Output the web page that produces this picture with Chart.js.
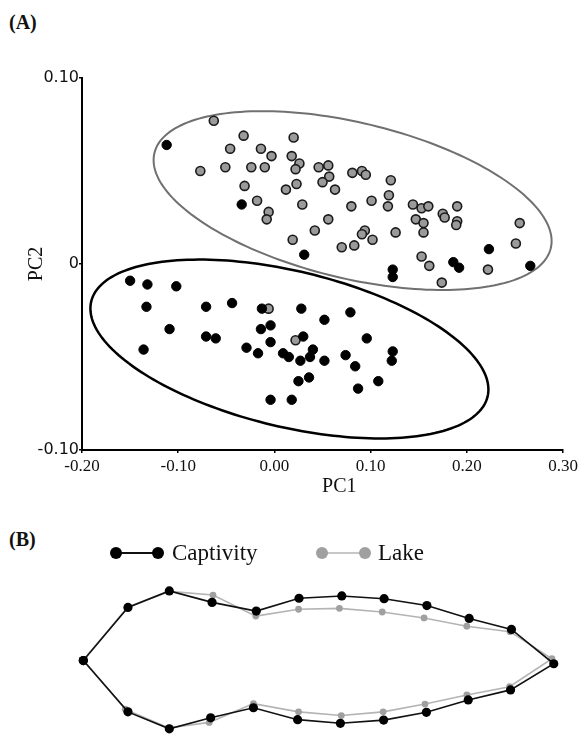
<!DOCTYPE html>
<html>
<head>
<meta charset="utf-8">
<title>PCA and mean shapes</title>
<script src="https://cdn.jsdelivr.net/npm/chart.js@4.4.0/dist/chart.umd.min.js"></script>
<style>
  html, body { margin: 0; padding: 0; background: #fff; }
  body { width: 585px; height: 738px; position: relative; overflow: hidden; font-family: "Liberation Serif", "Times New Roman", serif; color: #111; }
  .panel-label { position: absolute; left: 9px; font-weight: bold; font-size: 20px; line-height: 20px; }
  #wrapA { position: absolute; left: 0; top: 0; }
  #wrapB { position: absolute; left: 0; top: 540px; }
</style>
</head>
<body>
<div class="panel-label" style="top:12px">(A)</div>
<div class="panel-label" style="top:529px">(B)</div>
<div id="wrapA"><canvas id="pcaChart" width="585" height="505"></canvas></div>
<div id="wrapB"><canvas id="shapeChart" width="585" height="198"></canvas></div>
<script>
// ---- (A) PCA scores ----
const xTicks = [-0.20, -0.10, 0.00, 0.10, 0.20, 0.30];
const yTicks = [-0.10, 0, 0.10];

// Lake fish (grey)
const lakePC1 = [
  -0.063, -0.032, -0.046, -0.014, -0.003, 0.020, -0.077, -0.051, -0.024, -0.010,
  0.018, 0.026, 0.022, 0.046, 0.056, 0.057, 0.050, 0.063, 0.081, 0.091,
  0.095, 0.121, -0.031, 0.012, 0.023, -0.018, 0.029, -0.006, -0.008, 0.056,
  0.042, 0.019, 0.080, 0.101, 0.119, 0.118, 0.094, 0.091, 0.102, 0.070,
  0.083, 0.126, 0.144, 0.153, 0.160, 0.147, 0.155, 0.155, 0.175, 0.177,
  0.190, 0.190, 0.189, 0.153, 0.161, 0.174, 0.222, 0.251, 0.255, -0.006,
  0.022
];
const lakePC2 = [
  0.077, 0.069, 0.062, 0.062, 0.058, 0.068, 0.050, 0.052, 0.052, 0.052,
  0.058, 0.054, 0.051, 0.052, 0.053, 0.047, 0.044, 0.040, 0.049, 0.050,
  0.048, 0.045, 0.042, 0.040, 0.043, 0.034, 0.032, 0.028, 0.024, 0.024,
  0.018, 0.013, 0.031, 0.034, 0.037, 0.031, 0.018, 0.016, 0.013, 0.009,
  0.010, 0.017, 0.032, 0.030, 0.031, 0.024, 0.022, 0.017, 0.027, 0.025,
  0.031, 0.023, 0.021, 0.004, -0.001, -0.010, -0.003, 0.011, 0.022, -0.024,
  -0.041
];

// Captivity fish (black)
const captivityPC1 = [
  -0.112, -0.034, 0.031, 0.123, 0.123, 0.186, 0.192, 0.223, 0.266,
  -0.150, -0.132, -0.102, -0.133, -0.071, -0.044, -0.013, 0.028, 0.079, -0.109,
  -0.014, -0.004, 0.052, -0.071, -0.061, 0.030, -0.004, 0.096, -0.136, -0.029,
  -0.017, 0.009, 0.015, 0.027, 0.040, 0.037, 0.052, 0.074, 0.123, 0.122,
  0.084, 0.025, 0.036, 0.108, 0.087, -0.004, 0.018
];
const captivityPC2 = [
  0.064, 0.032, 0.005, -0.003, -0.007, 0.001, -0.002, 0.008, -0.001,
  -0.009, -0.011, -0.012, -0.023, -0.023, -0.021, -0.024, -0.024, -0.026, -0.035,
  -0.035, -0.033, -0.030, -0.039, -0.040, -0.039, -0.042, -0.040, -0.046, -0.045,
  -0.048, -0.048, -0.050, -0.052, -0.046, -0.050, -0.052, -0.049, -0.047, -0.052,
  -0.055, -0.063, -0.061, -0.063, -0.067, -0.073, -0.073
];

// confidence ellipses: centre + two half-axis vectors (data units)
const ellipseCentres = [[0.0813, 0.0341], [0.0156, -0.0457]];
const ellipseAxisU = [0.206, -0.0256];
const ellipseAxisV = [-0.0189, -0.0407];
const ellipseColours = ['#707070', '#000'];
const ellipseWidths = [2, 2.5];

// ---- (B) mean outlines (landmarks, arbitrary units) ----
const captivityX = [0.0, 9.5, 18.3, 27.4, 36.8, 45.9, 55.0, 64.0, 73.1, 82.1, 91.1, 100.1,
  90.9, 81.9, 73.0, 63.9, 54.7, 45.6, 36.2, 27.1, 18.3, 9.5];
const captivityY = [-0.1, 11.5, 15.1, 12.6, 10.7, 13.5, 14.0, 13.4, 11.9, 9.1, 6.7, -0.8,
  -6.5, -8.7, -11.4, -13.1, -13.8, -13.0, -10.4, -12.6, -15.0, -11.3];
const lakeX = [0.0, 9.5, 18.3, 27.6, 36.7, 45.8, 54.5, 63.6, 72.5, 81.6, 90.8, 99.7,
  90.7, 81.6, 72.7, 63.8, 54.9, 45.8, 36.2, 26.8, 18.2, 8.9];
const lakeY = [0.0, 11.6, 15.0, 14.2, 9.6, 11.1, 11.3, 10.5, 9.2, 7.4, 6.2, 0.3,
  -5.8, -7.6, -9.6, -11.3, -12.1, -11.3, -9.5, -13.6, -14.8, -10.7];

const toPoints = (xs, ys) => xs.map((v, i) => ({ x: v, y: ys[i] }));
const closeLoop = (xs, ys) => { const p = toPoints(xs, ys); p.push(p[0]); return p; };
const serif = '"Liberation Serif", "Times New Roman", serif';

const ellipsePlugin = {
  id: 'ellipses',
  beforeDatasetsDraw(chart) {
    const { ctx, scales: { x, y } } = chart;
    ellipseCentres.forEach((c, i) => {
      ctx.save();
      ctx.beginPath();
      for (let k = 0; k <= 200; k++) {
        const t = k / 200 * 2 * Math.PI;
        const vx = c[0] + ellipseAxisU[0] * Math.cos(t) + ellipseAxisV[0] * Math.sin(t);
        const vy = c[1] + ellipseAxisU[1] * Math.cos(t) + ellipseAxisV[1] * Math.sin(t);
        const px = x.getPixelForValue(vx), py = y.getPixelForValue(vy);
        if (k === 0) ctx.moveTo(px, py); else ctx.lineTo(px, py);
      }
      ctx.closePath();
      ctx.strokeStyle = ellipseColours[i];
      ctx.lineWidth = ellipseWidths[i];
      ctx.stroke();
      ctx.restore();
    });
  }
};

// x-axis title sits a little right of centre in the original
const pc1Plugin = {
  id: 'pc1Title',
  afterDraw(chart) {
    const { ctx, chartArea } = chart;
    ctx.save();
    ctx.font = '20px ' + serif;
    ctx.fillStyle = '#111';
    ctx.textAlign = 'center';
    ctx.textBaseline = 'middle';
    ctx.fillText('PC1', chartArea.left + (chartArea.right - chartArea.left) * 0.535, chartArea.bottom + 37);
    ctx.restore();
  }
};

new Chart(document.getElementById('pcaChart'), {
  type: 'scatter',
  data: {
    datasets: [
      {
        label: 'Captivity',
        data: toPoints(captivityPC1, captivityPC2),
        pointRadius: 4.7,
        backgroundColor: '#000',
        borderColor: '#000',
        borderWidth: 1,
        order: 0
      },
      {
        label: 'Lake',
        data: toPoints(lakePC1, lakePC2),
        pointRadius: 4.5,
        backgroundColor: '#9a9a9a',
        borderColor: '#1a1a1a',
        borderWidth: 1.6,
        order: 1
      }
    ]
  },
  options: {
    responsive: false,
    animation: false,
    layout: { padding: { left: 0, top: 78, right: 22, bottom: 0 } },
    plugins: { legend: { display: false }, tooltip: { enabled: false } },
    scales: {
      x: {
        type: 'linear',
        min: xTicks[0],
        max: xTicks[xTicks.length - 1],
        afterBuildTicks: s => { s.ticks = xTicks.map(v => ({ value: v })); },
        ticks: {
          maxRotation: 0,
          padding: 3,
          color: '#111',
          font: { family: serif, size: 17 },
          callback: v => (Math.abs(v) < 1e-9 ? 0 : v).toFixed(2)
        },
        grid: { drawOnChartArea: false, tickLength: 3, color: '#000', lineWidth: 1.5 },
        border: { color: '#000', width: 2 },
        afterFit: s => { s.height = 55; }
      },
      y: {
        type: 'linear',
        min: yTicks[0],
        max: yTicks[yTicks.length - 1],
        afterBuildTicks: s => { s.ticks = yTicks.map(v => ({ value: v })); },
        ticks: {
          padding: 0,
          color: '#111',
          font: { family: '"DejaVu Sans", sans-serif', size: 16 },
          callback: v => Math.abs(v) < 1e-9 ? '0' : v.toFixed(2)
        },
        grid: { drawOnChartArea: false, tickLength: 3, color: '#000', lineWidth: 1.5 },
        border: { color: '#000', width: 2 },
        title: {
          display: true,
          text: 'PC2',
          color: '#111',
          font: { family: serif, size: 20 },
          padding: { top: 25, bottom: 0 }
        },
        afterFit: s => { s.width = 82; }
      }
    }
  },
  plugins: [ellipsePlugin, pc1Plugin]
});

// ---- (B) ----
const shapeLegendPlugin = {
  id: 'shapeLegend',
  afterDraw(chart) {
    const { ctx } = chart;
    const items = [
      { ds: chart.data.datasets[0], x0: 116, x1: 158, tx: 172, r: 6, lw: 2 },
      { ds: chart.data.datasets[1], x0: 322, x1: 365, tx: 378, r: 6, lw: 1.5 }
    ];
    ctx.save();
    items.forEach(it => {
      const y = 13;
      ctx.strokeStyle = it.ds.borderColor;
      ctx.lineWidth = it.lw;
      ctx.beginPath();
      ctx.moveTo(it.x0, y);
      ctx.lineTo(it.x1, y);
      ctx.stroke();
      ctx.fillStyle = it.ds.pointBackgroundColor;
      [it.x0, it.x1].forEach(px => {
        ctx.beginPath();
        ctx.arc(px, y, it.r, 0, 2 * Math.PI);
        ctx.fill();
      });
      ctx.fillStyle = '#111';
      ctx.font = '23px ' + serif;
      ctx.textAlign = 'left';
      ctx.textBaseline = 'alphabetic';
      ctx.fillText(it.ds.label, it.tx, 20);
    });
    ctx.restore();
  }
};

new Chart(document.getElementById('shapeChart'), {
  type: 'scatter',
  data: {
    datasets: [
      {
        label: 'Captivity',
        data: closeLoop(captivityX, captivityY),
        showLine: true,
        borderColor: '#111',
        borderWidth: 1.6,
        pointRadius: 4.6,
        pointBackgroundColor: '#000',
        pointBorderColor: '#000',
        pointBorderWidth: 0,
        clip: false,
        order: 0
      },
      {
        label: 'Lake',
        data: closeLoop(lakeX, lakeY),
        showLine: true,
        borderColor: '#b4b4b4',
        borderWidth: 1.6,
        pointRadius: 3.4,
        pointBackgroundColor: '#a0a0a0',
        pointBorderColor: '#a0a0a0',
        pointBorderWidth: 0,
        clip: false,
        order: 1
      }
    ]
  },
  options: {
    responsive: false,
    animation: false,
    layout: { padding: { left: 78.6, right: 27, top: 46.8, bottom: 0.8 } },
    plugins: { legend: { display: false }, tooltip: { enabled: false } },
    scales: {
      x: { type: 'linear', display: false, min: -1, max: 101 },
      y: { type: 'linear', display: false, min: -16, max: 16 }
    }
  },
  plugins: [shapeLegendPlugin]
});
</script>
</body>
</html>
